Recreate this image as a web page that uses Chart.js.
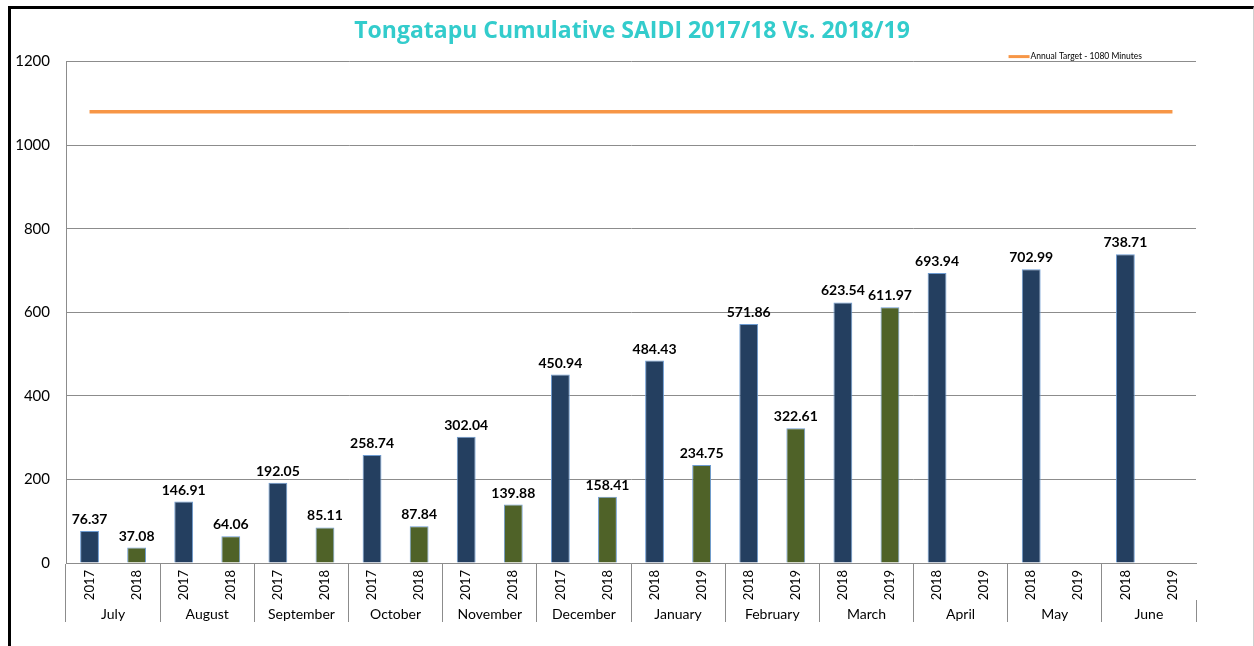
<!DOCTYPE html>
<html>
<head>
<meta charset="utf-8">
<script src="https://cdn.jsdelivr.net/npm/chart.js@4.4.0/dist/chart.umd.min.js"></script>
<style>
  html, body { margin: 0; padding: 0; background: #fff; overflow: hidden; }
  #frame {
    position: absolute; left: 8px; top: 6px;
    width: 1242px; height: 640px;
    border-left: 3px solid #000; border-top: 3px solid #000; border-right: 1px solid #d0d0d0;
  }
  #wrap { position: relative; width: 1242px; height: 637px; }
</style>
</head>
<body>
<div id="frame"><div id="wrap"><canvas id="saidi"></canvas></div></div>
<script>
const months = ['July', 'August', 'September', 'October', 'November', 'December',
  'January', 'February', 'March', 'April', 'May', 'June'];
const prevYearLabels = ['2017', '2017', '2017', '2017', '2017', '2017', '2018', '2018', '2018', '2018', '2018', '2018'];
const currYearLabels = ['2018', '2018', '2018', '2018', '2018', '2018', '2019', '2019', '2019', '2019', '2019', '2019'];
const saidiPrev = [76.37, 146.91, 192.05, 258.74, 302.04, 450.94, 484.43, 571.86, 623.54, 693.94, 702.99, 738.71];
const saidiCurr = [37.08, 64.06, 85.11, 87.84, 139.88, 158.41, 234.75, 322.61, 611.97, null, null, null];
const targetMinutes = 1080;
const targetLabel = 'Annual Target - 1080 Minutes';
const yTicks = [0, 200, 400, 600, 800, 1000, 1200];

const navy = '#243F60';
const olive = '#4F6228';
const orange = '#F79646';
const gridGray = '#8c8c8c';

// two bars per month, interleaved
const yearLabels = months.flatMap((m, i) => [prevYearLabels[i], currYearLabels[i]]);
const barValues = months.flatMap((m, i) => [saidiPrev[i], saidiCurr[i]]);
const barColors = months.flatMap(() => [navy, olive]);

Chart.defaults.font.family = 'Lato, "Open Sans", sans-serif';
Chart.defaults.color = '#000';

const barValueLabels = {
  id: 'barValueLabels',
  afterDatasetsDraw(chart) {
    const meta = chart.getDatasetMeta(0);
    const data = chart.data.datasets[0].data;
    const ctx = chart.ctx;
    ctx.save();
    ctx.font = 'bold 14px Lato, sans-serif';
    ctx.fillStyle = '#000';
    ctx.textAlign = 'center';
    ctx.textBaseline = 'alphabetic';
    meta.data.forEach((bar, i) => {
      if (data[i] == null) return;
      ctx.fillText(data[i].toFixed(2), bar.x, bar.y - 7);
    });
    ctx.restore();
  }
};

const targetLegend = {
  id: 'targetLegend',
  afterDraw(chart) {
    const ctx = chart.ctx;
    const area = chart.chartArea;
    const ds = chart.data.datasets[1];
    ctx.save();
    ctx.font = '8.5px Lato, sans-serif';
    const w = ctx.measureText(ds.label).width;
    const x = area.right - 54 - w;
    const y = area.top - 5;
    ctx.strokeStyle = ds.borderColor;
    ctx.lineWidth = 3;
    ctx.beginPath();
    ctx.moveTo(x - 22, y);
    ctx.lineTo(x - 1, y);
    ctx.stroke();
    ctx.fillStyle = '#000';
    ctx.textBaseline = 'middle';
    ctx.fillText(ds.label, x, y);
    ctx.restore();
  }
};

new Chart(document.getElementById('saidi'), {
  type: 'bar',
  data: {
    labels: yearLabels,
    datasets: [{
      label: 'Cumulative SAIDI',
      data: barValues,
      backgroundColor: barColors,
      borderColor: '#6d9bd1',
      borderWidth: 1,
      barPercentage: 0.8,
      categoryPercentage: 0.5,
      xAxisID: 'x',
      order: 2
    }, {
      type: 'line',
      label: targetLabel,
      data: yearLabels.map(() => targetMinutes),
      borderColor: orange,
      borderWidth: 3.5,
      pointRadius: 0,
      fill: false,
      xAxisID: 'x',
      order: 1
    }]
  },
  options: {
    responsive: true,
    maintainAspectRatio: false,
    animation: false,
    layout: { padding: 0 },
    plugins: {
      legend: { display: false },
      tooltip: { enabled: false },
      title: {
        display: true,
        text: 'Tongatapu Cumulative SAIDI 2017/18 Vs. 2018/19',
        color: '#33CCCC',
        font: { family: '"Open Sans", Lato, sans-serif', size: 23, weight: 'bold' },
        padding: { top: 9, bottom: 16 }
      }
    },
    scales: {
      y: {
        min: 0,
        max: 1200,
        afterBuildTicks: s => { s.ticks = yTicks.map(v => ({ value: v })); },
        afterFit: s => { s.width = 55; },
        ticks: { padding: 16, font: { size: 15 }, callback: v => String(v) },
        grid: { color: gridGray, drawTicks: false },
        border: { display: true, color: gridGray }
      },
      // empty right-hand gutter so the title stays centred on the whole frame
      yGutter: {
        position: 'right',
        min: 0,
        max: 1200,
        afterFit: s => { s.width = 57; },
        ticks: { display: false },
        grid: { drawOnChartArea: false, drawTicks: false },
        border: { display: false }
      },
      x: {
        weight: 0,
        afterFit: s => { s.height = 37; },
        ticks: { minRotation: 90, maxRotation: 90, padding: -30, font: { size: 13 } },
        grid: {
          offset: true,
          drawOnChartArea: false,
          tickLength: 37,
          color: c => (c.index % 2 === 0 ? gridGray : 'rgba(0,0,0,0)')
        },
        border: { display: true, color: gridGray }
      },
      x2: {
        type: 'category',
        position: 'bottom',
        weight: 1,
        labels: months,
        offset: true,
        afterFit: s => { s.height = 46; },
        ticks: { padding: -16, font: { size: 14 } },
        grid: { offset: true, drawOnChartArea: false, tickLength: 22, color: gridGray },
        border: { display: false }
      }
    }
  },
  plugins: [barValueLabels, targetLegend]
});
</script>
</body>
</html>
